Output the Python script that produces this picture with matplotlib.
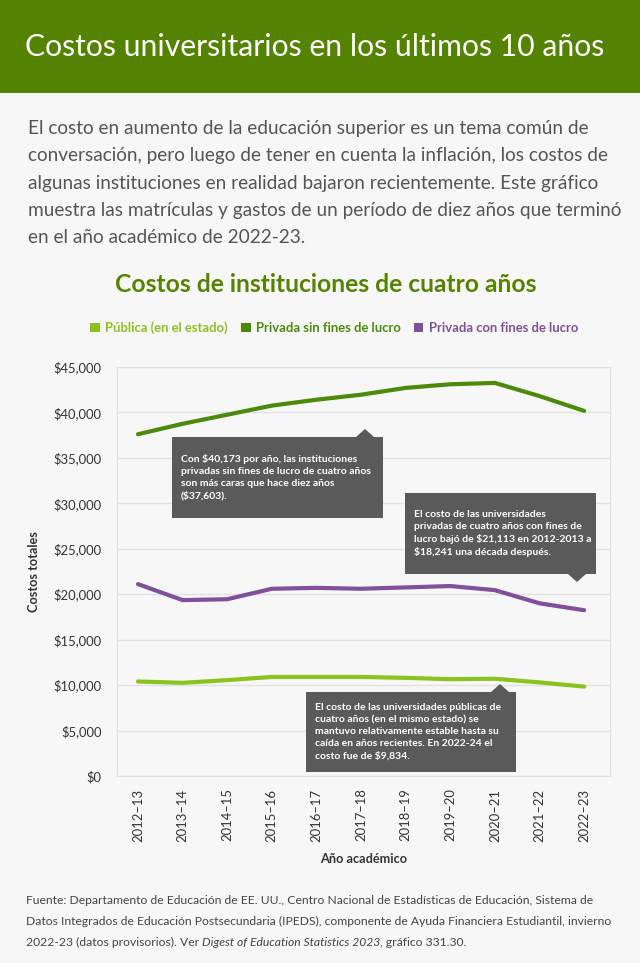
import matplotlib
matplotlib.use("Agg")
import matplotlib.pyplot as plt
from matplotlib.patches import Rectangle, Polygon, Patch
from matplotlib.ticker import FuncFormatter

plt.rcParams['font.family'] = ['Lato', 'DejaVu Sans']

# data
years = ['2012–13', '2013–14', '2014–15', '2015–16', '2016–17', '2017–18',
         '2018–19', '2019–20', '2020–21', '2021–22', '2022–23']
publica = [10400, 10250, 10550, 10900, 10900, 10900, 10800, 10650, 10700, 10300, 9834]
privada_sin = [37603, 38750, 39750, 40750, 41400, 41950, 42700, 43100, 43250, 41800, 40173]
privada_con = [21113, 19350, 19450, 20600, 20700, 20600, 20750, 20900, 20450, 19000, 18241]
series_names = ['Pública (en el estado)', 'Privada sin fines de lucro', 'Privada con fines de lucro']
colors = ['#8cc21f', '#4c8a0c', '#80509a']

W, H = 640, 963
fig = plt.figure(figsize=(W / 100, H / 100), dpi=100, facecolor='#f7f7f7')

def fx(x):
    return x / W

def fy(y):
    return 1 - y / H

# header band
fig.patches.append(Rectangle((0, fy(93)), 1, 93 / H, transform=fig.transFigure,
                             facecolor='#548302', edgecolor='none', zorder=0))
fig.text(fx(25), fy(47), 'Costos universitarios en los últimos 10 años', color='white',
         fontsize=21.7, va='center', ha='left')

intro = ("El costo en aumento de la educación superior es un tema común de\n"
         "conversación, pero luego de tener en cuenta la inflación, los costos de\n"
         "algunas instituciones en realidad bajaron recientemente. Este gráfico\n"
         "muestra las matrículas y gastos de un período de diez años que terminó\n"
         "en el año académico de 2022-23.")
fig.text(fx(28), fy(120), intro, color='#555555', fontsize=13.7, va='top', ha='left',
         linespacing=1.74)

fig.text(fx(326), fy(285), 'Costos de instituciones de cuatro años', color='#548302',
         fontsize=17.7, fontweight='bold', ha='center', va='center')

# main axes
ax = fig.add_axes([fx(117), fy(776), fx(610) - fx(117), fy(367) - fy(776)])
ax.set_facecolor('#f7f7f7')
x = range(len(years))
for vals, c in zip([publica, privada_sin, privada_con], colors):
    ax.plot(x, vals, color=c, lw=3, solid_capstyle='round', zorder=3)
ax.set_ylim(0, 45000)
ax.set_xlim(-0.47, 10.58)
ax.set_yticks(range(0, 45001, 5000))
ax.yaxis.set_major_formatter(FuncFormatter(lambda v, p: '${:,.0f}'.format(v)))
ax.set_xticks(list(x))
ax.set_xticklabels(years, rotation=90)
ax.tick_params(length=0, labelsize=9.4, labelcolor='#333333')
ax.tick_params(axis='y', pad=11)
ax.tick_params(axis='x', pad=9)
ax.grid(axis='y', color='#e2e2e2', lw=1)
ax.set_axisbelow(True)
for s in ax.spines.values():
    s.set_color('#e2e2e2')
ax.set_ylabel('Costos totales', fontsize=9.2, color='#333333', fontweight='bold', labelpad=10)
ax.set_xlabel('Año académico', fontsize=9.2, color='#333333', fontweight='bold', labelpad=8)

handles = [Patch(facecolor=c, edgecolor='none') for c in colors]
fig.legend(handles, series_names, loc='center', bbox_to_anchor=(fx(334), fy(328)),
           ncol=3, frameon=False, handlelength=0.75, handleheight=0.75, handletextpad=0.4,
           columnspacing=1.0, labelcolor=colors, prop={'weight': 'bold', 'size': 9.4})

# annotation overlay in pixel space
ov = fig.add_axes([0, 0, 1, 1], zorder=5)
ov.set_xlim(0, W)
ov.set_ylim(H, 0)
ov.axis('off')
ov.patch.set_visible(False)

box_c = '#5a5a5a'
notes = [
    (172, 437, 211, 81, 'top', 365,
     "Con $40,173 por año, las instituciones\nprivadas sin fines de lucro de cuatro años\n"
     "son más caras que hace diez años\n($37,603)."),
    (405, 493, 191, 81, 'bottom', 577,
     "El costo de las universidades\nprivadas de cuatro años con fines de\n"
     "lucro bajó de $21,113 en 2012-2013 a\n$18,241 una década después."),
    (306, 692, 210, 80, 'top', 500,
     "El costo de las universidades públicas de\ncuatro años (en el mismo estado) se\n"
     "mantuvo relativamente estable hasta su\ncaída en años recientes. En 2022-24 el\n"
     "costo fue de $9,834."),
]
for bx, by, bw, bh, side, px, txt in notes:
    ov.add_patch(Rectangle((bx, by), bw, bh, facecolor=box_c, edgecolor='none'))
    if side == 'top':
        tri = [(px - 9, by), (px + 9, by), (px, by - 8)]
    else:
        tri = [(px - 9, by + bh), (px + 9, by + bh), (px, by + bh + 8)]
    ov.add_patch(Polygon(tri, closed=True, facecolor=box_c, edgecolor='none'))
    ov.text(bx + 9, by + bh / 2, txt, color='white', fontsize=7.5, fontweight='bold',
            va='center', ha='left', linespacing=1.42)

# footnote
fc = '#444444'
fs = 8.7
fig.text(fx(26), fy(900), "Fuente: Departamento de Educación de EE. UU., Centro Nacional de "
         "Estadísticas de Educación, Sistema de", color=fc, fontsize=fs, va='center')
fig.text(fx(26), fy(921), "Datos Integrados de Educación Postsecundaria (IPEDS), componente "
         "de Ayuda Financiera Estudiantil, invierno", color=fc, fontsize=fs, va='center')
t1 = fig.text(fx(26), fy(942), "2022-23 (datos provisorios). Ver ", color=fc, fontsize=fs,
              va='center')
t2 = fig.text(0, 0, "Digest of Education Statistics 2023", color=fc, fontsize=fs,
              style='italic', va='bottom')
fig.canvas.draw()
r = fig.canvas.get_renderer()
bb = t1.get_window_extent(r)
t2.set_position((bb.x1 / W, bb.y0 / H))
fig.canvas.draw()
bb2 = t2.get_window_extent(r)
fig.text(bb2.x1 / W, bb.y0 / H, ", gráfico 331.30.", color=fc, fontsize=fs, va='bottom')

fig.savefig('out.png', dpi=100, facecolor=fig.get_facecolor())
